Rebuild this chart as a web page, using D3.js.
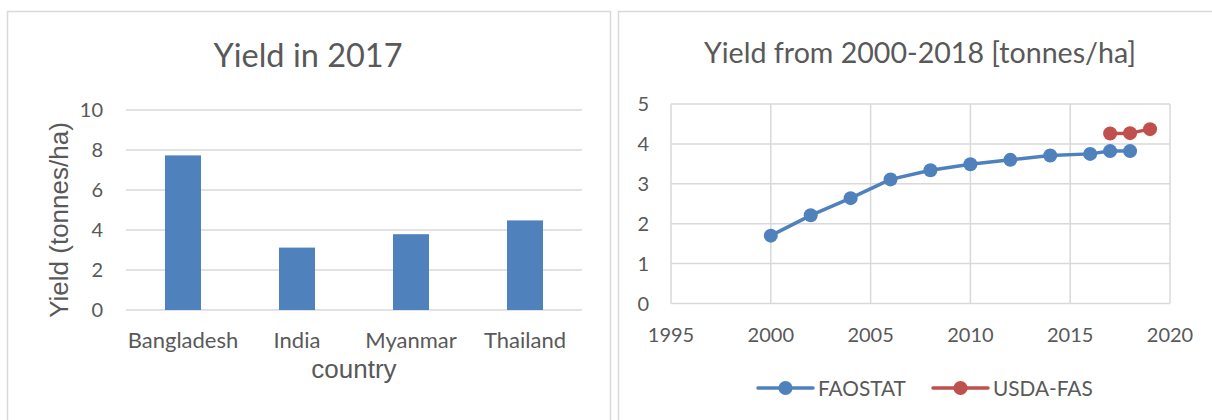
<!DOCTYPE html>
<html>
<head>
<meta charset="utf-8">
<script src="https://cdn.jsdelivr.net/npm/d3@7"></script>
<style>
  html, body { margin: 0; padding: 0; background: #fff; }
  svg { display: block; }
  .calibri { font-family: Lato, "Open Sans", sans-serif; fill: #595959; }
  .arial { font-family: "Liberation Sans", Arial, sans-serif; fill: #595959; }
</style>
</head>
<body>
<svg id="chart" width="1212" height="420"></svg>
<script>
// Bar chart data (yield in 2017, tonnes/ha)
const countries = ['Bangladesh', 'India', 'Myanmar', 'Thailand'];
const yield2017 = [7.73, 3.12, 3.79, 4.48];
const barTicks = [0, 2, 4, 6, 8, 10];

// Line chart data (yield 2000-2018)
const faoYears = [2000, 2002, 2004, 2006, 2008, 2010, 2012, 2014, 2016, 2017, 2018];
const faoYield = [1.70, 2.21, 2.64, 3.11, 3.34, 3.49, 3.60, 3.71, 3.75, 3.82, 3.82];
const usdaYears = [2017, 2018, 2019];
const usdaYield = [4.26, 4.27, 4.37];
const yearTicks = [1995, 2000, 2005, 2010, 2015, 2020];
const lineTicks = [0, 1, 2, 3, 4, 5];

const BLUE = '#4F81BD';
const RED = '#C0504D';
const GRID = '#d9d9d9';

const svg = d3.select('#chart');

// panel frames
svg.append('rect').attr('x', 7.5).attr('y', 11.5).attr('width', 603).attr('height', 440)
  .attr('fill', 'none').attr('stroke', GRID).attr('stroke-width', 1.5);
svg.append('rect').attr('x', 618.5).attr('y', 11.5).attr('width', 640).attr('height', 440)
  .attr('fill', 'none').attr('stroke', GRID).attr('stroke-width', 1.5);

// ---------- left: bar chart ----------
const bx = d3.scaleBand().domain(countries).range([126, 582]).paddingInner(0.684).paddingOuter(0.342);
const by = d3.scaleLinear().domain([0, 10]).range([310, 110]);
const left = svg.append('g');

left.append('text').attr('class', 'calibri').attr('x', 308).attr('y', 67)
  .attr('text-anchor', 'middle').attr('font-size', 32.5).text('Yield in 2017');

left.append('g').selectAll('line').data(barTicks).join('line')
  .attr('x1', 126).attr('x2', 582)
  .attr('y1', d => by(d)).attr('y2', d => by(d))
  .attr('stroke', GRID).attr('stroke-width', 1.5);

left.append('g').selectAll('text').data(barTicks).join('text')
  .attr('class', 'calibri').attr('font-size', 20)
  .attr('x', 103).attr('y', d => by(d) + 7)
  .attr('text-anchor', 'end').text(d => d);

left.append('g').selectAll('rect').data(countries).join('rect')
  .attr('x', d => bx(d)).attr('width', bx.bandwidth())
  .attr('y', (d, i) => by(yield2017[i]))
  .attr('height', (d, i) => by(0) - by(yield2017[i]))
  .attr('fill', BLUE);

left.append('g').selectAll('text').data(countries).join('text')
  .attr('class', 'calibri').attr('font-size', 22)
  .attr('x', d => bx(d) + bx.bandwidth() / 2).attr('y', 348)
  .attr('text-anchor', 'middle').text(d => d);

left.append('text').attr('class', 'arial').attr('font-size', 26)
  .attr('x', 354).attr('y', 378).attr('text-anchor', 'middle').text('country');

left.append('text').attr('class', 'arial').attr('font-size', 26)
  .attr('transform', 'translate(68,220) rotate(-90)')
  .attr('text-anchor', 'middle').text('Yield (tonnes/ha)');

// ---------- right: line chart ----------
const lx = d3.scaleLinear().domain([1995, 2020]).range([671, 1170]);
const ly = d3.scaleLinear().domain([0, 5]).range([303.5, 104]);
const right = svg.append('g');

right.append('text').attr('class', 'calibri').attr('x', 920).attr('y', 63)
  .attr('text-anchor', 'middle').attr('font-size', 28.6).text('Yield from 2000-2018 [tonnes/ha]');

right.append('g').selectAll('line').data(lineTicks).join('line')
  .attr('x1', lx(1995)).attr('x2', lx(2020))
  .attr('y1', d => ly(d)).attr('y2', d => ly(d))
  .attr('stroke', GRID).attr('stroke-width', 1.5);
right.append('g').selectAll('line').data(yearTicks).join('line')
  .attr('x1', d => lx(d)).attr('x2', d => lx(d))
  .attr('y1', ly(0)).attr('y2', ly(5))
  .attr('stroke', GRID).attr('stroke-width', 1.5);

right.append('g').selectAll('text').data(lineTicks).join('text')
  .attr('class', 'calibri').attr('font-size', 20)
  .attr('x', 649).attr('y', d => ly(d) + 7)
  .attr('text-anchor', 'end').text(d => d);
right.append('g').selectAll('text').data(yearTicks).join('text')
  .attr('class', 'calibri').attr('font-size', 20)
  .attr('x', d => lx(d)).attr('y', 342)
  .attr('text-anchor', 'middle').text(d => d);

const line = d3.line().x(d => lx(d[0])).y(d => ly(d[1]));
const series = [
  { name: 'FAOSTAT', color: BLUE, pts: faoYears.map((y, i) => [y, faoYield[i]]) },
  { name: 'USDA-FAS', color: RED, pts: usdaYears.map((y, i) => [y, usdaYield[i]]) },
];
series.forEach(s => {
  right.append('path').attr('d', line(s.pts)).attr('fill', 'none')
    .attr('stroke', s.color).attr('stroke-width', 3.5).attr('stroke-linejoin', 'round');
  right.append('g').selectAll('circle').data(s.pts).join('circle')
    .attr('cx', d => lx(d[0])).attr('cy', d => ly(d[1])).attr('r', 7)
    .attr('fill', s.color);
});

// legend
const legX = [758, 933];
series.forEach((s, i) => {
  const g = right.append('g').attr('transform', `translate(${legX[i]},388)`);
  g.append('line').attr('x1', 0).attr('x2', 55).attr('stroke', s.color)
    .attr('stroke-width', 3.5).attr('stroke-linecap', 'round');
  g.append('circle').attr('cx', 27.5).attr('r', 7).attr('fill', s.color);
  g.append('text').attr('class', 'calibri').attr('font-size', 20.8)
    .attr('x', 60).attr('y', 7.5).text(s.name);
});
</script>
</body>
</html>
